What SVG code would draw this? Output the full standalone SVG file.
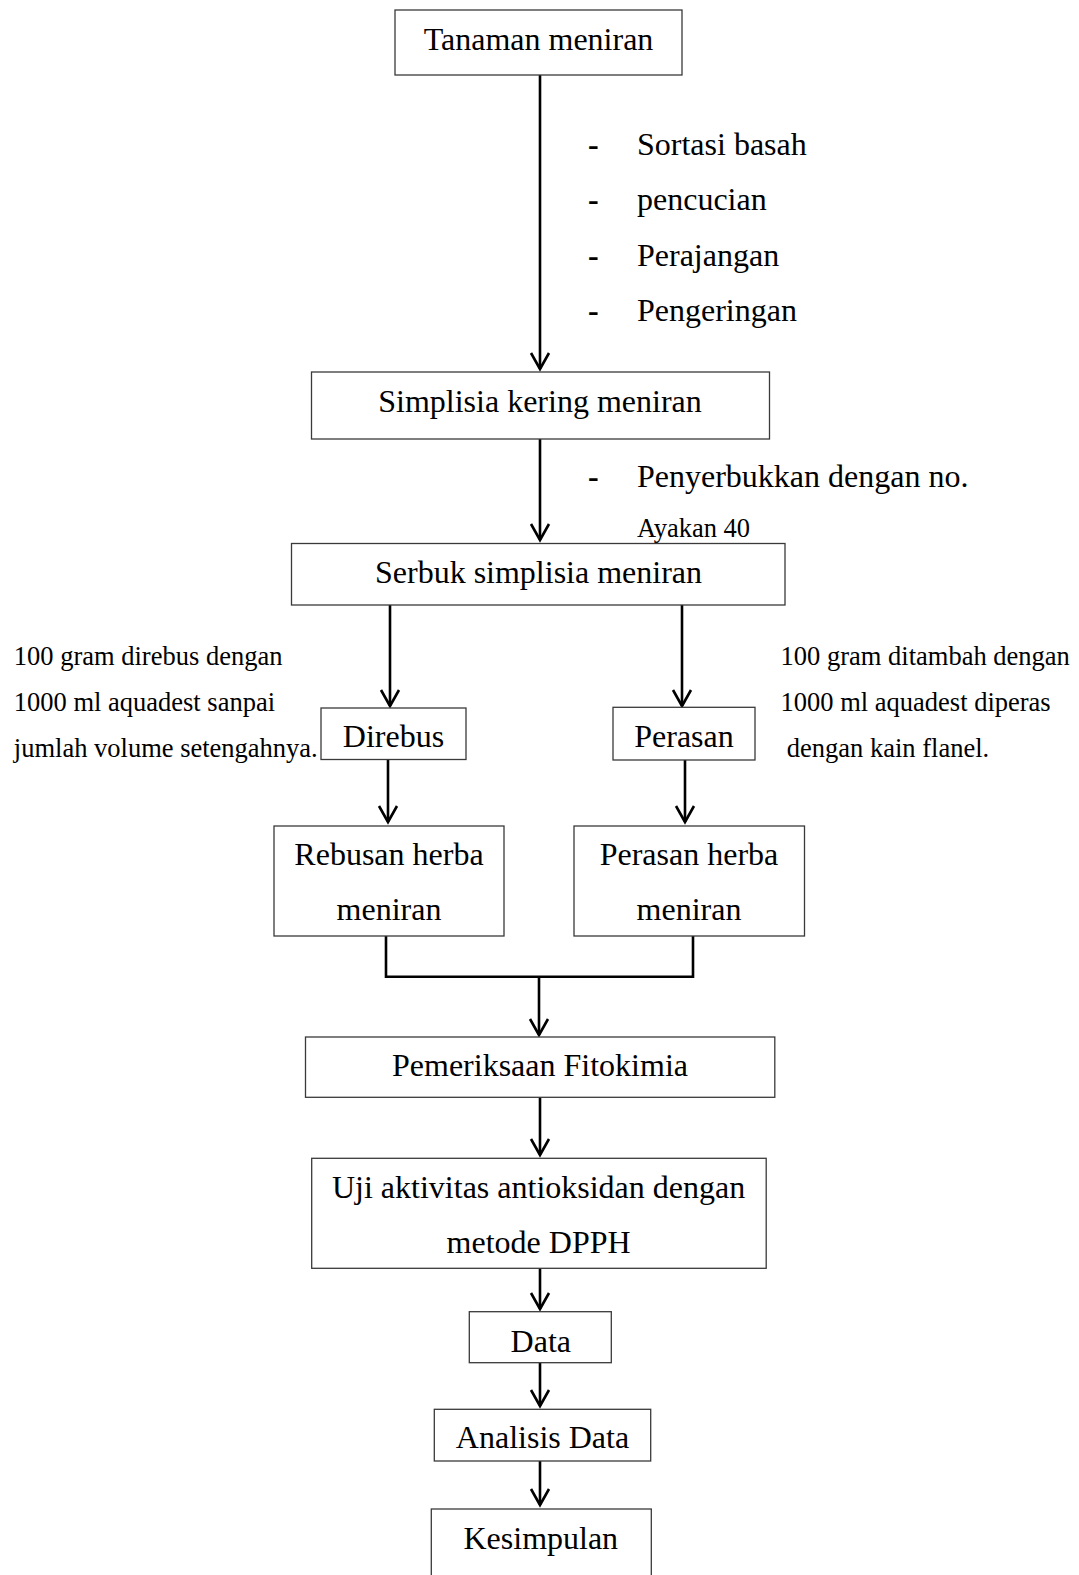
<svg xmlns="http://www.w3.org/2000/svg" width="1079" height="1575" viewBox="0 0 1079 1575">
<defs>
<marker id="arr" viewBox="-20 -12 24 24" markerWidth="24" markerHeight="24" markerUnits="userSpaceOnUse" refX="0" refY="0" orient="auto">
<path d="M-16,-9 L0,0 L-16,9" fill="none" stroke="#000" stroke-width="2.6"/>
</marker>
</defs>
<style>
.box{fill:#fff;stroke:#3a3a3a;stroke-width:1.3}
.t{font-family:"Liberation Serif","Times New Roman",serif;font-size:32px;fill:#000;text-anchor:middle}
.s{font-family:"Liberation Serif","Times New Roman",serif;font-size:26.5px;fill:#000}
.b{font-family:"Liberation Serif","Times New Roman",serif;font-size:32px;fill:#000}
.d{font-family:"Liberation Serif","Times New Roman",serif;font-size:32px;font-weight:bold;fill:#000}
.c{fill:none;stroke:#000;stroke-width:2.6}
.a{fill:none;stroke:#000;stroke-width:2.6;marker-end:url(#arr)}
</style>
<rect width="1079" height="1575" fill="#fff"/>
<g id="connectors">
<line class="a" x1="540" y1="75" x2="540" y2="369"/>
<line class="a" x1="540" y1="439" x2="540" y2="540"/>
<line class="a" x1="390" y1="605" x2="390" y2="706"/>
<line class="a" x1="682" y1="605" x2="682" y2="706"/>
<line class="a" x1="388" y1="760" x2="388" y2="822"/>
<line class="a" x1="685" y1="760" x2="685" y2="822"/>
<path class="c" d="M386,936 V976.7 H693 V936"/>
<line class="a" x1="539" y1="976.7" x2="539" y2="1035"/>
<line class="a" x1="540" y1="1097" x2="540" y2="1155"/>
<line class="a" x1="540" y1="1268" x2="540" y2="1309"/>
<line class="a" x1="540" y1="1363" x2="540" y2="1406"/>
<line class="a" x1="540" y1="1461" x2="540" y2="1505"/>
</g>
<g id="n-tanaman"><rect class="box" x="395" y="10" width="287" height="65"/><text class="t" x="538.5" y="50">Tanaman meniran</text></g>
<g id="steps-1">
<text class="d" x="588" y="155">-</text><text class="b" x="637" y="155">Sortasi basah</text>
<text class="d" x="588" y="210">-</text><text class="b" x="637" y="210">pencucian</text>
<text class="d" x="588" y="266">-</text><text class="b" x="637" y="266">Perajangan</text>
<text class="d" x="588" y="321">-</text><text class="b" x="637" y="321">Pengeringan</text>
</g>
<g id="n-simplisia"><rect class="box" x="311.5" y="372" width="458" height="67"/><text class="t" x="540" y="411.5">Simplisia kering meniran</text></g>
<g id="steps-2">
<text class="d" x="588" y="487">-</text><text class="b" x="637" y="487">Penyerbukkan dengan no.</text>
<text class="s" x="637" y="537">Ayakan 40</text>
</g>
<g id="n-serbuk"><rect class="box" x="291.5" y="543.5" width="493.5" height="61.5"/><text class="t" x="538.5" y="582.5">Serbuk simplisia meniran</text></g>
<g id="note-left">
<text class="s" x="13.8" y="665">100 gram direbus dengan</text>
<text class="s" x="13.8" y="710.5">1000 ml aquadest sanpai</text>
<text class="s" x="13.8" y="756.5">jumlah volume setengahnya.</text>
</g>
<g id="note-right">
<text class="s" x="780.6" y="665">100 gram ditambah dengan</text>
<text class="s" x="780.6" y="710.5">1000 ml aquadest diperas</text>
<text class="s" x="786.8" y="756.5">dengan kain flanel.</text>
</g>
<g id="n-direbus"><rect class="box" x="321" y="708" width="145" height="51.5"/><text class="t" x="393.5" y="747">Direbus</text></g>
<g id="n-perasan"><rect class="box" x="613" y="707.3" width="142" height="52.7"/><text class="t" x="684" y="746.5">Perasan</text></g>
<g id="n-rebusan"><rect class="box" x="274" y="826" width="230" height="110"/><text class="t" x="389" y="864.5">Rebusan herba</text><text class="t" x="389" y="920">meniran</text></g>
<g id="n-perasan-herba"><rect class="box" x="574" y="826" width="230.5" height="110"/><text class="t" x="689" y="864.5">Perasan herba</text><text class="t" x="689" y="920">meniran</text></g>
<g id="n-pemeriksaan"><rect class="box" x="305.5" y="1037" width="469.3" height="60.3"/><text class="t" x="540" y="1076">Pemeriksaan Fitokimia</text></g>
<g id="n-uji"><rect class="box" x="311.7" y="1158.3" width="454.5" height="110"/><text class="t" x="538.6" y="1197.7">Uji aktivitas antioksidan dengan</text><text class="t" x="538.6" y="1252.7">metode DPPH</text></g>
<g id="n-data"><rect class="box" x="469.3" y="1311.7" width="142" height="51"/><text class="t" x="540.8" y="1351.7">Data</text></g>
<g id="n-analisis"><rect class="box" x="434.3" y="1409.3" width="216.4" height="51.7"/><text class="t" x="542.5" y="1448.3">Analisis Data</text></g>
<g id="n-kesimpulan"><rect class="box" x="431.3" y="1509" width="220" height="80"/><text class="t" x="540.8" y="1549.3">Kesimpulan</text></g>
</svg>
